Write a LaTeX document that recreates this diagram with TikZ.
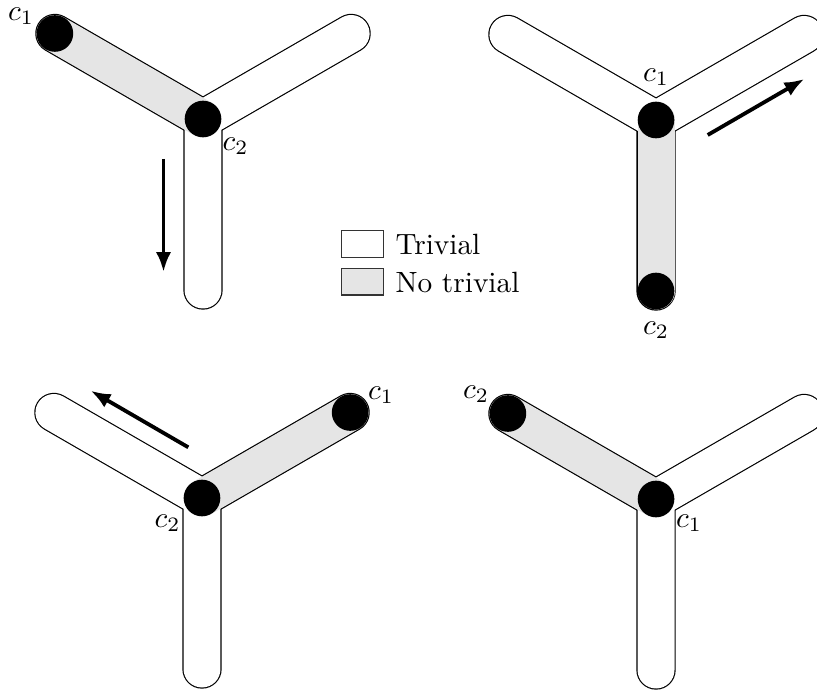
\documentclass[tikz,border=0pt]{standalone}
\usetikzlibrary{arrows.meta}
\definecolor{nontriv}{gray}{0.9}
\tikzset{
  tubeedge/.style={line width=13.42pt, line cap=round, draw=black},
  tubetriv/.style={line width=12.62pt, line cap=round, draw=white},
  tubenon/.style={line width=12.62pt, line cap=round, draw=nontriv},
  vertex/.style={fill=black},
  lab/.style={inner sep=0pt},
  move/.style={line width=1.3pt, -{Latex[length=6.8pt,width=5.2pt]}},
  keybox/.style={draw=black!80, line width=0.5pt},
}
\begin{document}
\begin{tikzpicture}[x=0.3413pt, y=-0.3413pt]
\useasboundingbox (0,0) rectangle (817,691);

% ---- upper left: c1 at the end, c2 at the centre
\coordinate (aC) at (203,119);
\coordinate (aUL) at (54.9,33.5);
\coordinate (aUR) at (351.1,33.5);
\coordinate (aD) at (203,290);
\draw[tubeedge] (aC) -- (aUL) (aC) -- (aUR) (aC) -- (aD);
\draw[tubetriv] (aC) -- (aUR) (aC) -- (aD);
\draw[tubenon] (aC) -- (aUL);
\fill[vertex] (aUL) circle[radius=6.25pt];
\fill[vertex] (aC) circle[radius=6.25pt];
\node[lab] (ac1) at (21,16) {$c_1$};
\node[lab] (ac2) at (235.5,146) {$c_2$};
\coordinate (aS) at (163.5,159);
\coordinate (aT) at (163.5,272);
\draw[move] (aS) -- (aT);

% ---- upper right: c1 at the centre, c2 at the lower end
\coordinate (bC) at (656,120);
\coordinate (bUL) at (507.9,34.5);
\coordinate (bUR) at (804.1,34.5);
\coordinate (bD) at (656,291);
\draw[tubeedge] (bC) -- (bUL) (bC) -- (bUR) (bC) -- (bD);
\draw[tubetriv] (bC) -- (bUL) (bC) -- (bUR);
\draw[tubenon] (bC) -- (bD);
\fill[vertex] (bD) circle[radius=6.25pt];
\fill[vertex] (bC) circle[radius=6.25pt];
\node[lab] (bc1) at (656,77) {$c_1$};
\node[lab] (bc2) at (656,330) {$c_2$};
\coordinate (bS) at (707.7,135);
\coordinate (bT) at (804.3,79);
\draw[move] (bS) -- (bT);

% ---- lower left: c1 at the upper right end, c2 at the centre
\coordinate (cC) at (202,498);
\coordinate (cUL) at (53.9,412.5);
\coordinate (cUR) at (350.1,412.5);
\coordinate (cD) at (202,669);
\draw[tubeedge] (cC) -- (cUL) (cC) -- (cUR) (cC) -- (cD);
\draw[tubetriv] (cC) -- (cUL) (cC) -- (cD);
\draw[tubenon] (cC) -- (cUR);
\fill[vertex] (cUR) circle[radius=6.25pt];
\fill[vertex] (cC) circle[radius=6.25pt];
\node[lab] (cc1) at (381,395) {$c_1$};
\node[lab] (cc2) at (167.5,523) {$c_2$};
\coordinate (cS) at (188.3,447.3);
\coordinate (cT) at (90.7,390.7);
\draw[move] (cS) -- (cT);

% ---- lower right: c2 at the upper left end, c1 at the centre
\coordinate (dC) at (656,499);
\coordinate (dUL) at (507.9,413.5);
\coordinate (dUR) at (804.1,413.5);
\coordinate (dD) at (656,670);
\draw[tubeedge] (dC) -- (dUL) (dC) -- (dUR) (dC) -- (dD);
\draw[tubetriv] (dC) -- (dUR) (dC) -- (dD);
\draw[tubenon] (dC) -- (dUL);
\fill[vertex] (dUL) circle[radius=6.25pt];
\fill[vertex] (dC) circle[radius=6.25pt];
\node[lab] (dc2) at (476,394) {$c_2$};
\node[lab] (dc1) at (689,523) {$c_1$};

% ---- key
\draw[keybox, fill=white] (341.7,230.7) rectangle (383.3,257.3);
\draw[keybox, fill=nontriv] (341.7,268.3) rectangle (383.3,295);
\node[lab, anchor=base west] (kt) at (395,255) {Trivial};
\node[lab, anchor=base west] (kn) at (395,292) {No trivial};
\end{tikzpicture}
\end{document}
